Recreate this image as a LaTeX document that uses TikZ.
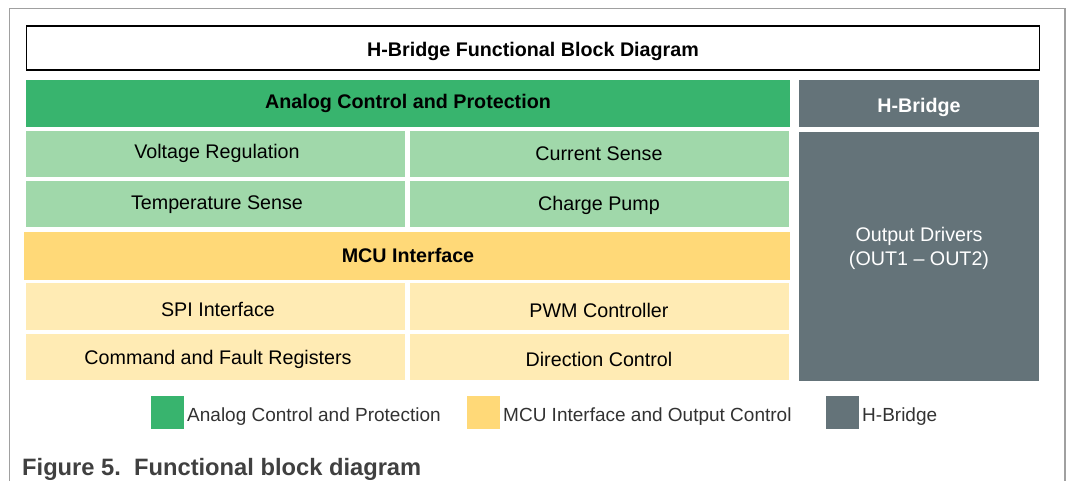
\documentclass[tikz,border=0pt]{standalone}
\usepackage{fontspec}
\setmainfont{Liberation Sans}
\definecolor{hdrgreen}{RGB}{56,180,110}
\definecolor{ltgreen}{RGB}{160,216,170}
\definecolor{hdryellow}{RGB}{255,217,120}
\definecolor{ltyellow}{RGB}{255,235,180}
\definecolor{hbgray}{RGB}{100,115,121}
\definecolor{framegray}{RGB}{160,160,160}
\definecolor{legtext}{RGB}{50,50,50}
\definecolor{captext}{RGB}{64,64,64}
\tikzset{
  blk/.style={rectangle, inner sep=0pt, outer sep=0pt, draw=none},
  cell/.style={blk, minimum width=379pt, minimum height=46pt},
  txt/.style={inner sep=0pt, yshift=-3pt, font=\fontsize{19.7}{22}\selectfont},
  btxt/.style={inner sep=0pt, yshift=-3pt, font=\fontsize{19.7}{22}\selectfont\bfseries},
  legsq/.style={blk, minimum width=33pt, minimum height=33pt},
  legtxt/.style={inner sep=0pt, anchor=west, yshift=-3pt, text=legtext, font=\fontsize{19}{22}\selectfont},
}
\begin{document}
\begin{tikzpicture}[x=1pt,y=-1pt]
\useasboundingbox (0,0) rectangle (1066,481);
% outer frame
\draw[framegray, line width=1.3pt] (9.5,481) -- (9.5,8.5) -- (1065,8.5) -- (1065,481);
% title
\node[blk, draw=black, line width=1.4pt, minimum width=1013pt, minimum height=44pt] (title) at (533,48) {};
\node[btxt] (titletxt) at (title.center) {H-Bridge Functional Block Diagram};
% Analog header
\node[blk, fill=hdrgreen, minimum width=764pt, minimum height=47pt] (ach) at (408,103.5) {};
\node[btxt] (achtxt) at (408,100) {Analog Control and Protection};
% H-Bridge header
\node[blk, fill=hbgray, minimum width=240pt, minimum height=47pt] (hbh) at (919,103.5) {};
\node[btxt, text=white] (hbhtxt) at (919,104) {H-Bridge};
% green rows
\node[cell, fill=ltgreen] (vr) at (215.5,154) {};
\node[txt] (vrtxt) at (217,150) {Voltage Regulation};
\node[cell, fill=ltgreen] (cs) at (599.5,154) {};
\node[txt] (cstxt) at (599,151) {Current Sense};
\node[cell, fill=ltgreen] (ts) at (215.5,204.5) {};
\node[txt] (tstxt) at (217,202) {Temperature Sense};
\node[cell, fill=ltgreen] (cp) at (599.5,204.5) {};
\node[txt] (cptxt) at (599,202) {Charge Pump};
% MCU header
\node[blk, fill=hdryellow, minimum width=766pt, minimum height=48pt] (mcu) at (407,256) {};
\node[btxt] (mcutxt) at (408,252) {MCU Interface};
% yellow rows
\node[cell, fill=ltyellow] (spi) at (215.5,306.5) {};
\node[txt] (spitxt) at (218,306) {SPI Interface};
\node[cell, fill=ltyellow] (pwm) at (599.5,306.5) {};
\node[txt] (pwmtxt) at (599,307) {PWM Controller};
\node[cell, fill=ltyellow] (cfr) at (215.5,357) {};
\node[txt] (cfrtxt) at (218,356) {Command and Fault Registers};
\node[cell, fill=ltyellow] (dc) at (599.5,357) {};
\node[txt] (dctxt) at (599,356) {Direction Control};
% Output drivers
\node[blk, fill=hbgray, minimum width=240pt, minimum height=249pt] (od) at (919,256.5) {};
\node[txt, text=white, align=center, font=\fontsize{19.7}{24}\selectfont] (odtxt) at (919,245) {Output Drivers\\(OUT1 -- OUT2)};
% legend
\node[legsq, fill=hdrgreen] (lg1) at (167.5,412.5) {};
\node[legtxt] (lg1t) at (187,414) {Analog Control and Protection};
\node[legsq, fill=hdryellow] (lg2) at (483.5,412.5) {};
\node[legtxt] (lg2t) at (503,414) {MCU Interface and Output Control};
\node[legsq, fill=hbgray] (lg3) at (842.5,412.5) {};
\node[legtxt] (lg3t) at (862,414) {H-Bridge};
% caption
\node[inner sep=0pt, anchor=base west, text=captext, font=\fontsize{23.7}{26}\selectfont\bfseries] (cap) at (22,475) {Figure 5.\ \ Functional block diagram};
\end{tikzpicture}
\end{document}
